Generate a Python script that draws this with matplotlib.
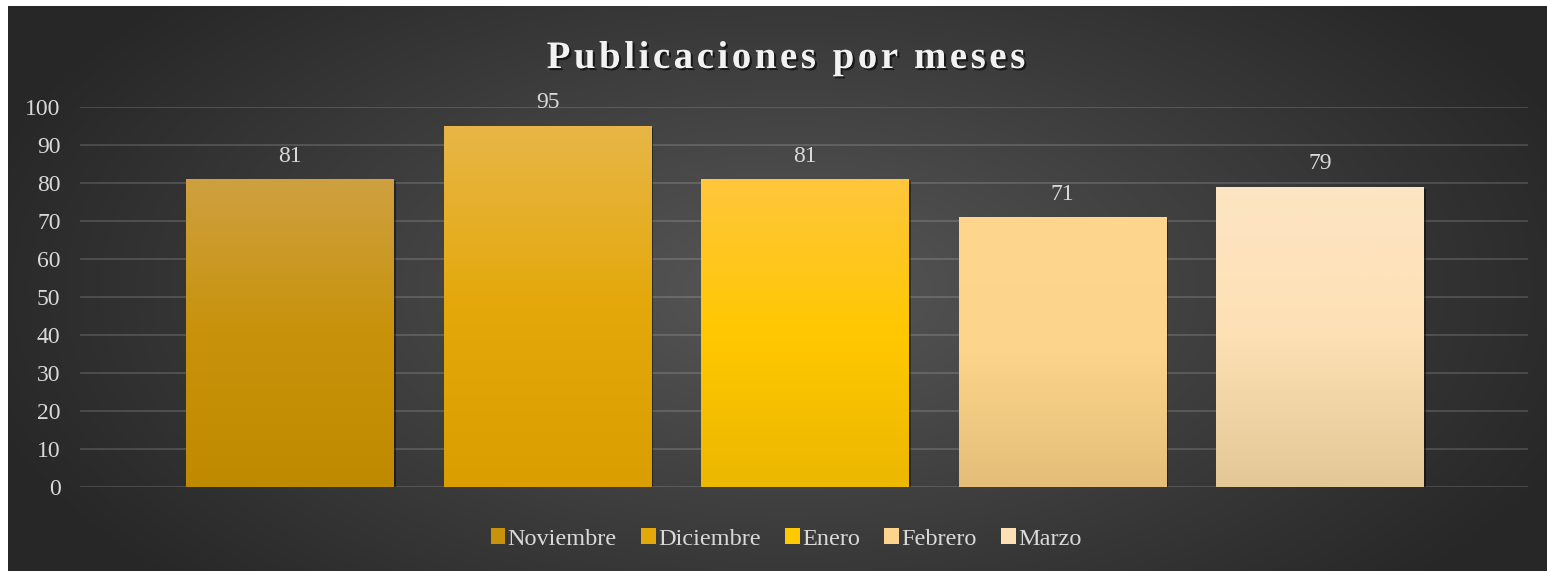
import numpy as np
import matplotlib
matplotlib.use("Agg")
import matplotlib.pyplot as plt
import matplotlib.patheffects as pe
from matplotlib.colors import to_rgb

# data
months = ["Noviembre", "Diciembre", "Enero", "Febrero", "Marzo"]
posts = [81, 95, 81, 71, 79]
yticks = [0, 10, 20, 30, 40, 50, 60, 70, 80, 90, 100]

# gradient stops per bar (top, middle, bottom)
grad_top = ["#CFA040", "#E8B646", "#FFC63C", "#FED68C", "#FDE5C3"]
grad_mid = ["#C8920A", "#E4A80A", "#FFC800", "#FCD48C", "#FDE0B4"]
grad_bot = ["#C08A00", "#DA9E00", "#ECB800", "#E4BE78", "#E4C896"]

W, H, DPI = 1547, 571, 100
plt.rcParams["font.family"] = ["Liberation Serif", "DejaVu Serif"]

fig = plt.figure(figsize=(W / DPI, H / DPI), dpi=DPI, facecolor="white")

# ---- dark radial background (white strip on top and left like the original)
bg = fig.add_axes([8 / W, 0, 1 - 8 / W, 1 - 6 / H], zorder=0)
gx, gy = np.meshgrid(np.linspace(8, W, 400), np.linspace(6, H, 160))
r = np.sqrt(((gx - 790) / 850.0) ** 2 + ((gy - 290) / 440.0) ** 2)
r = np.clip(r, 0, 1)[..., None]
c_in = np.array(to_rgb("#575757"))
c_out = np.array(to_rgb("#272727"))
bg.imshow(c_in * (1 - r) + c_out * r, aspect="auto", interpolation="bilinear")
bg.set_axis_off()

# ---- main axes
ax = fig.add_axes([80 / W, 1 - 487 / H, (1528 - 80) / W, (487 - 107) / H], zorder=1)
ax.patch.set_alpha(0)
x = np.arange(len(months))
bars = []
for i, (m, v) in enumerate(zip(months, posts)):
    b = ax.bar(x[i], v, width=0.805, color=grad_mid[i], label=m, zorder=3,
               path_effects=[pe.SimplePatchShadow(offset=(1.5, -1.5), shadow_rgbFace="black", alpha=0.45),
                             pe.Normal()])
    bars.append(b)

for i, b in enumerate(bars):
    rect = b.patches[0]
    x0, w, h = rect.get_x(), rect.get_width(), rect.get_height()
    t = np.linspace(0, 1, 100)[:, None]
    top, mid, bot = (np.array(to_rgb(c)) for c in (grad_top[i], grad_mid[i], grad_bot[i]))
    g = np.where(t < 0.5, top + (mid - top) * (t / 0.5), mid + (bot - mid) * ((t - 0.5) / 0.5))
    im = ax.imshow(g[:, None, :], extent=[x0, x0 + w, 0, h], aspect="auto", zorder=4,
                   interpolation="bilinear")
    im.set_clip_path(rect)
    ax.bar_label(b, labels=[str(posts[i])], padding=9, color="#d9d9d9", fontsize=17, zorder=5)

ax.set_xlim(-0.816, 4.808)
ax.set_ylim(0, 100)
ax.set_yticks(yticks)
ax.set_xticks([])
ax.tick_params(axis="y", length=0, pad=14, labelsize=17, labelcolor="#d9d9d9")
ax.grid(axis="y", color="white", alpha=0.16, linewidth=1.3, zorder=0)
ax.set_axisbelow(True)
for s in ax.spines.values():
    s.set_visible(False)

leg = ax.legend(loc="center", bbox_to_anchor=(786 / W, 1 - 539 / H), bbox_transform=fig.transFigure,
                ncol=5, frameon=False, fontsize=17.5, handlelength=0.6, handleheight=0.6,
                handletextpad=0.1, columnspacing=1.0, labelcolor="#d9d9d9")
for h in leg.legend_handles:
    h.set_path_effects([])

# ---- title with letter spacing
title = "Publicaciones por meses"
tkw = dict(fontsize=28, fontweight="bold", color="#f2f2f2")
rend = fig.canvas.get_renderer()

def text_w(s):
    if not s:
        return 0.0
    t = fig.text(0, 0, s, **tkw)
    w = t.get_window_extent(rend).width
    t.remove()
    return w

spacing = 3.5
total = text_w(title) + spacing * (len(title) - 1)
start = 786 - total / 2
for i, ch in enumerate(title):
    if ch == " ":
        continue
    px = start + text_w(title[:i]) + spacing * i
    fig.text(px / W, 1 - 68 / H, ch, ha="left", va="baseline", **tkw,
             path_effects=[pe.SimplePatchShadow(offset=(1.5, -1.5), shadow_rgbFace="black", alpha=0.6),
                           pe.Normal()])

fig.savefig("out.png", dpi=DPI, facecolor=fig.get_facecolor())
